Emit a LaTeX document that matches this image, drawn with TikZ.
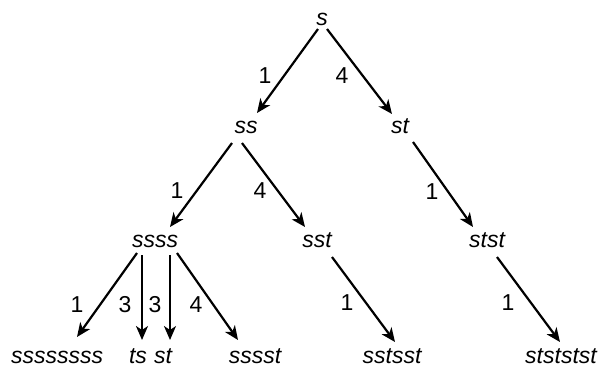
\documentclass[tikz,border=0pt]{standalone}
\usepackage{fontspec}
\setmainfont{Liberation Sans}
\usetikzlibrary{arrows.meta}
\begin{document}
\begin{tikzpicture}[x=1pt,y=-1pt,
  lbl/.style={font=\fontsize{23}{27}\selectfont\itshape, inner sep=0pt, anchor=base},
  num/.style={font=\fontsize{23}{27}\selectfont, inner sep=0pt},
  edge/.style={line width=2.2pt, -{Stealth[length=14pt,width=12pt,inset=4pt]}}]
\useasboundingbox (0,0) rectangle (602,368);
% nodes (baseline positions)
\node[lbl] (s)    at (322,25) {s};
\node[lbl] (ss)   at (246,133) {ss};
\node[lbl] (st)   at (400,133) {st};
\node[lbl] (ssss) at (155,247) {ssss};
\node[lbl] (sst)  at (317,247) {sst};
\node[lbl] (stst) at (487,247) {stst};
\node[lbl] (s8)   at (57,363) {ssssssss};
\node[lbl] (ts)   at (138,363) {ts};
\node[lbl] (st2)  at (163,363) {st};
\node[lbl] (sssst) at (255,363) {sssst};
\node[lbl] (sstsst) at (392,363) {sstsst};
\node[lbl] (stststst) at (561,363) {stststst};
% edges
\draw[edge] ([shift={(-4,4)}]s.base) -- ([shift={(11,-20)}]ss.base);
\draw[edge] ([shift={(5,4)}]s.base) -- ([shift={(-8,-19)}]st.base);
\draw[edge] ([shift={(-14,10)}]ss.base) -- ([shift={(15,-20)}]ssss.base);
\draw[edge] ([shift={(-4,10)}]ss.base) -- ([shift={(-12,-20)}]sst.base);
\draw[edge] ([shift={(13,9)}]st.base) -- ([shift={(-14,-20)}]stst.base);
\draw[edge] ([shift={(15,10)}]sst.base) -- ([shift={(3,-21)}]sstsst.base);
\draw[edge] ([shift={(10,10)}]stst.base) -- ([shift={(-1,-21)}]stststst.base);
\draw[edge] ([shift={(-18,6)}]ssss.base) -- ([shift={(20,-26)}]s8.base);
\draw[edge] ([shift={(-13,8)}]ssss.base) -- ([shift={(4,-23)}]ts.base);
\draw[edge] ([shift={(15,8)}]ssss.base) -- ([shift={(7,-23)}]st2.base);
\draw[edge] ([shift={(22,6)}]ssss.base) -- ([shift={(-17,-23)}]sssst.base);
% edge labels
\node[num] (l1) at (265,76) {1};
\node[num] (l2) at (342,76) {4};
\node[num] (l3) at (177,191) {1};
\node[num] (l4) at (260,191) {4};
\node[num] (l5) at (432,192) {1};
\node[num] (l6) at (347,303) {1};
\node[num] (l7) at (508,303) {1};
\node[num] (l8) at (77,305) {1};
\node[num] (l9) at (125,305) {3};
\node[num] (l10) at (155,305) {3};
\node[num] (l11) at (196,305) {4};
\end{tikzpicture}
\end{document}
